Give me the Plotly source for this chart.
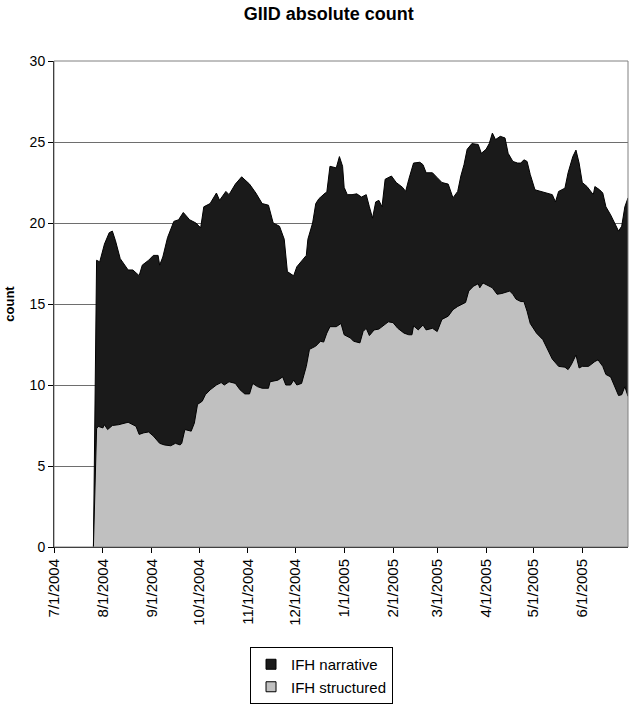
import plotly.graph_objects as go

# top of the stack (structured + narrative)
total_dates = [
    "2004-07-26", "2004-07-27", "2004-07-28", "2004-07-30", "2004-08-02", "2004-08-05", "2004-08-07",
    "2004-08-09", "2004-08-12", "2004-08-17", "2004-08-20", "2004-08-24", "2004-08-26", "2004-08-30",
    "2004-09-02", "2004-09-05", "2004-09-06", "2004-09-08", "2004-09-11", "2004-09-15", "2004-09-18",
    "2004-09-21", "2004-09-25", "2004-09-29", "2004-10-02", "2004-10-04", "2004-10-08", "2004-10-12",
    "2004-10-14", "2004-10-18", "2004-10-20", "2004-10-24", "2004-10-28", "2004-11-02", "2004-11-06",
    "2004-11-10", "2004-11-14", "2004-11-17", "2004-11-21", "2004-11-24", "2004-11-26", "2004-11-29",
    "2004-11-30", "2004-12-02", "2004-12-08", "2004-12-09", "2004-12-12", "2004-12-14", "2004-12-16",
    "2004-12-20", "2004-12-21", "2004-12-23", "2004-12-27", "2004-12-29", "2004-12-31", "2005-01-01",
    "2005-01-03", "2005-01-06", "2005-01-09", "2005-01-12", "2005-01-15", "2005-01-17", "2005-01-19",
    "2005-01-21", "2005-01-23", "2005-01-25", "2005-01-27", "2005-01-31", "2005-02-03", "2005-02-07",
    "2005-02-09", "2005-02-11", "2005-02-14", "2005-02-18", "2005-02-20", "2005-02-22", "2005-02-26",
    "2005-03-01", "2005-03-04", "2005-03-08", "2005-03-11", "2005-03-14", "2005-03-16", "2005-03-18",
    "2005-03-20", "2005-03-23", "2005-03-27", "2005-03-29", "2005-04-01", "2005-04-03", "2005-04-05",
    "2005-04-07", "2005-04-10", "2005-04-13", "2005-04-15", "2005-04-18", "2005-04-21", "2005-04-23",
    "2005-04-25", "2005-04-27", "2005-04-29", "2005-05-02", "2005-05-06", "2005-05-10", "2005-05-13",
    "2005-05-15", "2005-05-17", "2005-05-21", "2005-05-23", "2005-05-26", "2005-05-28", "2005-05-30",
    "2005-06-01", "2005-06-04", "2005-06-08", "2005-06-09", "2005-06-12", "2005-06-14", "2005-06-16",
    "2005-06-19", "2005-06-21", "2005-06-24", "2005-06-26", "2005-06-28", "2005-06-30",
]
total_counts = [
    0, 8.85, 17.7, 17.6, 18.7, 19.4, 19.5,
    18.9, 17.8, 17.1, 17.1, 16.75, 17.4, 17.7,
    18.0, 18.0, 17.4, 17.9, 19.1, 20.1, 20.2,
    20.65, 20.2, 20.0, 19.7, 21.0, 21.2, 21.85,
    21.4, 21.95, 21.75, 22.4, 22.85, 22.4, 21.85,
    21.2, 21.1, 20.0, 19.8, 19.0, 17.0, 16.8,
    16.75, 17.3, 18.0, 19.0, 20.0, 21.2, 21.5,
    21.85, 21.9, 23.5, 23.4, 24.1, 23.5, 22.2,
    21.75, 21.75, 21.8, 21.6, 21.75, 21.0, 20.3,
    21.3, 21.4, 21.0, 22.7, 22.9, 22.5, 22.2,
    21.95, 22.7, 23.7, 23.75, 23.6, 23.1, 23.1,
    22.8, 22.5, 22.4, 21.55, 21.95, 22.9, 23.6,
    24.55, 24.9, 24.85, 24.3, 24.55, 24.9, 25.55,
    25.15, 25.35, 25.25, 24.3, 23.8, 23.7, 23.7,
    23.9, 23.8, 23.0, 22.05, 21.95, 21.85, 21.75,
    21.3, 21.95, 22.15, 23.1, 24.1, 24.5, 23.7,
    22.5, 22.25, 21.75, 22.25, 22.05, 21.85, 21.0,
    20.5, 20.1, 19.5, 19.8, 21.0, 21.55,
]

structured_dates = [
    "2004-07-26", "2004-07-27", "2004-07-28", "2004-07-29", "2004-08-01", "2004-08-02", "2004-08-04",
    "2004-08-07", "2004-08-11", "2004-08-17", "2004-08-20", "2004-08-22", "2004-08-24", "2004-08-27",
    "2004-08-30", "2004-09-02", "2004-09-06", "2004-09-09", "2004-09-13", "2004-09-16", "2004-09-19",
    "2004-09-20", "2004-09-22", "2004-09-26", "2004-09-28", "2004-09-30", "2004-10-03", "2004-10-05",
    "2004-10-08", "2004-10-12", "2004-10-15", "2004-10-17", "2004-10-20", "2004-10-24", "2004-10-27",
    "2004-10-30", "2004-11-02", "2004-11-04", "2004-11-07", "2004-11-10", "2004-11-14", "2004-11-15",
    "2004-11-20", "2004-11-23", "2004-11-25", "2004-11-28", "2004-11-30", "2004-12-02", "2004-12-05",
    "2004-12-08", "2004-12-10", "2004-12-14", "2004-12-17", "2004-12-19", "2004-12-21", "2004-12-23",
    "2004-12-27", "2004-12-30", "2005-01-01", "2005-01-05", "2005-01-07", "2005-01-11", "2005-01-13",
    "2005-01-15", "2005-01-17", "2005-01-20", "2005-01-23", "2005-01-25", "2005-01-29", "2005-02-01",
    "2005-02-04", "2005-02-08", "2005-02-11", "2005-02-13", "2005-02-14", "2005-02-17", "2005-02-20",
    "2005-02-22", "2005-02-26", "2005-03-01", "2005-03-04", "2005-03-08", "2005-03-11", "2005-03-14",
    "2005-03-17", "2005-03-19", "2005-03-21", "2005-03-24", "2005-03-27", "2005-03-28", "2005-03-30",
    "2005-04-02", "2005-04-05", "2005-04-08", "2005-04-11", "2005-04-16", "2005-04-18", "2005-04-20",
    "2005-04-23", "2005-04-25", "2005-04-27", "2005-04-29", "2005-05-03", "2005-05-07", "2005-05-10",
    "2005-05-13", "2005-05-17", "2005-05-21", "2005-05-23", "2005-05-25", "2005-05-28", "2005-05-30",
    "2005-06-01", "2005-06-05", "2005-06-09", "2005-06-11", "2005-06-14", "2005-06-16", "2005-06-19",
    "2005-06-22", "2005-06-24", "2005-06-26", "2005-06-28", "2005-06-30",
]
structured_counts = [
    0, 3.7, 7.3, 7.45, 7.35, 7.55, 7.25,
    7.5, 7.55, 7.7, 7.55, 7.45, 6.95, 7.05,
    7.1, 6.85, 6.4, 6.3, 6.25, 6.4, 6.3,
    6.4, 7.25, 7.15, 7.65, 8.8, 9.0, 9.4,
    9.7, 10.0, 10.15, 10.0, 10.2, 10.1, 9.7,
    9.45, 9.45, 10.1, 9.9, 9.8, 9.8, 10.2,
    10.3, 10.5, 10.0, 10.0, 10.3, 10.0, 10.1,
    11.15, 12.2, 12.4, 12.7, 12.65, 13.2, 13.6,
    13.6, 13.8, 13.1, 12.9, 12.7, 12.6, 13.3,
    13.5, 13.05, 13.4, 13.45, 13.6, 13.9, 13.85,
    13.5, 13.2, 13.1, 13.1, 13.65, 13.4, 13.7,
    13.4, 13.5, 13.3, 14.05, 14.25, 14.65, 14.85,
    15.0, 15.1, 15.8, 16.1, 16.25, 16.0, 16.3,
    16.15, 16.0, 15.6, 15.65, 15.8, 15.6, 15.3,
    15.15, 15.15, 14.55, 13.8, 13.2, 12.8, 12.2,
    11.6, 11.15, 11.1, 10.95, 11.25, 11.85, 11.05,
    11.15, 11.15, 11.45, 11.55, 11.15, 10.65, 10.5,
    9.8, 9.35, 9.4, 9.9, 9.3,
]

series_names = ["IFH narrative", "IFH structured"]
series_colors = ["#1a1a1a", "#c0c0c0"]

font = "Arial, Liberation Sans, sans-serif"

fig = go.Figure()
fig.add_trace(go.Scatter(
    x=total_dates, y=total_counts, name=series_names[0], mode="lines", showlegend=False,
    fill="tozeroy", fillcolor=series_colors[0], line=dict(color="black", width=1),
))
fig.add_trace(go.Scatter(
    x=structured_dates, y=structured_counts, name=series_names[1], mode="lines", showlegend=False,
    fill="tozeroy", fillcolor=series_colors[1], line=dict(color="black", width=1),
))
# square legend keys like the Excel legend
for name, color in zip(series_names, series_colors):
    fig.add_trace(go.Scatter(
        x=[None], y=[None], name=name, mode="markers",
        marker=dict(symbol="square", size=10, color=color, line=dict(color="black", width=1)),
    ))

fig.update_layout(
    width=630, height=706,
    margin=dict(l=54, r=2, t=61, b=159),
    paper_bgcolor="white", plot_bgcolor="white",
    font=dict(family=font, size=14, color="black"),
    title=dict(text="<b>GIID absolute count</b>", x=0.522, xanchor="center",
               y=1 - 14 / 706, yanchor="middle", yref="container",
               font=dict(family=font, size=18, color="black")),
    showlegend=True,
    legend=dict(x=0.3415, y=1 - 647 / 706, xanchor="left", yanchor="top", yref="container",
                bordercolor="black", borderwidth=1, bgcolor="white",
                itemwidth=30,
                font=dict(family=font, size=15, color="black")),
    shapes=[dict(type="rect", xref="paper", yref="paper", x0=0, x1=1, y0=0, y1=1,
                 line=dict(color="#808080", width=1), layer="above")],
)
fig.update_xaxes(
    type="date", range=["2004-07-01", "2005-06-30"], automargin=False,
    tickmode="linear", tick0="2004-07-01", dtick="M1", tickformat="%-m/%-d/%Y",
    tickangle=-90, ticks="outside", ticklen=5, tickcolor="black",
    showline=True, linecolor="black", linewidth=1, showgrid=False,
    tickfont=dict(family=font, size=15),
)
fig.update_yaxes(
    range=[0, 30], dtick=5, ticks="outside", ticklen=5, tickcolor="black", automargin=False,
    showline=True, linecolor="black", linewidth=1,
    showgrid=True, gridcolor="#6e6e6e", gridwidth=1, zeroline=False,
    title=dict(text="<b>count</b>", font=dict(family=font, size=13), standoff=12),
    tickfont=dict(family=font, size=14),
)

# page margin would otherwise shift the 630x706 figure by 8px
fig.write_html("out.html", config={"displayModeBar": False},
               post_script="document.body.style.margin='0';")
